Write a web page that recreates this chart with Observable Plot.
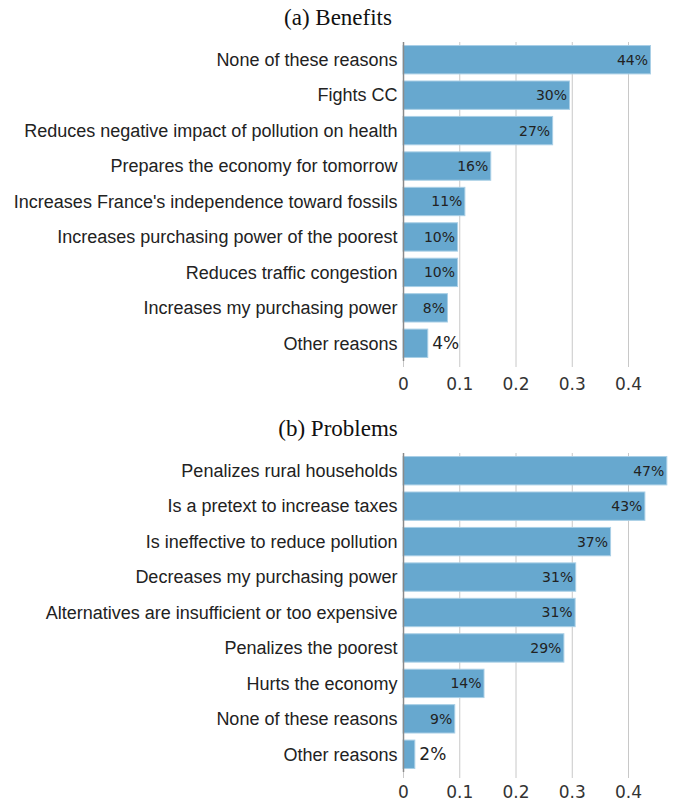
<!DOCTYPE html>
<html>
<head>
<meta charset="utf-8">
<script src="https://cdn.jsdelivr.net/npm/d3@7"></script>
<script src="https://cdn.jsdelivr.net/npm/@observablehq/plot@0.6"></script>
<style>
  html, body { margin: 0; padding: 0; background: #fff; }
  .title { font-family: "Liberation Serif", "DejaVu Serif", serif; font-size: 23px; color: #111; text-align: center; width: 676px; }
  #t1 { height: 36px; line-height: 36px; }
  #t2 { height: 50px; line-height: 36px; padding-top: 10px; box-sizing: border-box; }
  svg { display: block; }
</style>
</head>
<body>
<div class="title" id="t1">(a) Benefits</div>
<div id="c1"></div>
<div class="title" id="t2">(b) Problems</div>
<div id="c2"></div>
<script>
const benefitCategories = [
  "None of these reasons",
  "Fights CC",
  "Reduces negative impact of pollution on health",
  "Prepares the economy for tomorrow",
  "Increases France's independence toward fossils",
  "Increases purchasing power of the poorest",
  "Reduces traffic congestion",
  "Increases my purchasing power",
  "Other reasons"
];
const benefitValues = [0.44, 0.296, 0.266, 0.156, 0.11, 0.097, 0.097, 0.079, 0.044];

const problemCategories = [
  "Penalizes rural households",
  "Is a pretext to increase taxes",
  "Is ineffective to reduce pollution",
  "Decreases my purchasing power",
  "Alternatives are insufficient or too expensive",
  "Penalizes the poorest",
  "Hurts the economy",
  "None of these reasons",
  "Other reasons"
];
const problemValues = [0.469, 0.43, 0.369, 0.307, 0.306, 0.286, 0.144, 0.092, 0.021];

const xTicks = [0, 0.1, 0.2, 0.3, 0.4];

function makeChart(categories, values, height, marginTop, marginBottom, tickPadding) {
  const data = categories.map((c, i) => ({cat: c, v: values[i], label: Math.round(values[i] * 100) + "%"}));
  const inside = data.filter(d => d.v >= 0.06);
  const outside = data.filter(d => d.v < 0.06);
  return Plot.plot({
    width: 676,
    height,
    marginLeft: 403,
    marginRight: 3,
    marginTop,
    marginBottom,
    style: {fontFamily: "DejaVu Sans, sans-serif", fontSize: "16px", color: "#222", background: "#fff"},
    x: {domain: [0, 0.48], ticks: xTicks, tickFormat: d => d === 0 ? "0" : String(d)},
    y: {domain: categories, paddingInner: 0.2, paddingOuter: 0.1, round: false},
    marks: [
      Plot.gridX(xTicks.filter(t => t > 0), {stroke: "#c8c8c8", strokeOpacity: 1, strokeWidth: 1}),
      Plot.barX(data, {x: "v", y: "cat", fill: "#67a8cf", stroke: "#a9cfe6", strokeWidth: 1}),
      Plot.axisX({ticks: xTicks, tickFormat: d => d === 0 ? "0" : String(d), tickSize: 6, stroke: "#c8c8c8", tickPadding, fontSize: 17, fill: "#333", label: null}),
      Plot.axisY({tickSize: 0, tickPadding: 6, fontSize: 18, fontFamily: "Liberation Sans, Arial, sans-serif", fill: "#222", label: null}),
      Plot.ruleX([0], {stroke: "#8a8a8a", strokeWidth: 1.5}),
      Plot.text(inside, {x: "v", y: "cat", text: "label", textAnchor: "end", dx: -3, fontSize: 14, fill: "#222"}),
      Plot.text(outside, {x: "v", y: "cat", text: "label", textAnchor: "start", dx: 4, fontSize: 17, fill: "#222"})
    ]
  });
}

document.getElementById("c1").appendChild(makeChart(benefitCategories, benefitValues, 365, 6, 40, 10));
document.getElementById("c2").appendChild(makeChart(problemCategories, problemValues, 352, 2, 31, 7));
</script>
</body>
</html>
